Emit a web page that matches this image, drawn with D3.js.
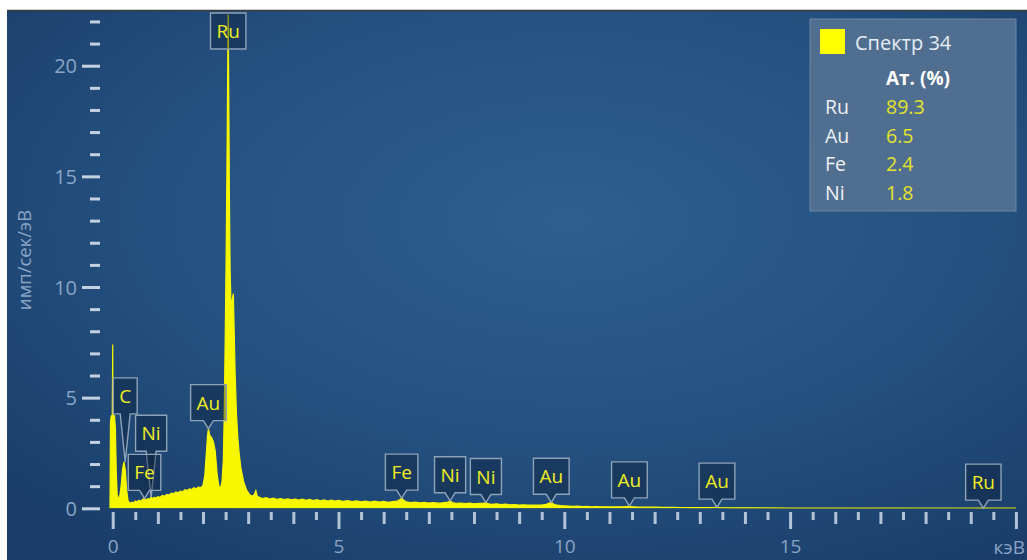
<!DOCTYPE html>
<html>
<head>
<meta charset="utf-8">
<script src="https://cdn.jsdelivr.net/npm/d3@7"></script>
<style>
  html, body { margin: 0; padding: 0; background: #ffffff; }
  svg { display: block; font-family: "Open Sans", "Noto Sans", sans-serif; }
</style>
</head>
<body>
<svg id="chart" width="1027" height="560"></svg>
<script>
// ---- EDS spectrum: [energy keV, counts per second per eV] ----
const spectrum = [
  [-0.06,0],[-0.05,3.9],[-0.03,4.2],[-0.01,4.0],[0.00,7.4],[0.005,4.3],[0.02,4.1],[0.04,4.2],[0.06,3.6],
  [0.08,1.6],[0.10,0.6],[0.13,0.4],[0.16,0.6],[0.19,1.1],[0.22,1.8],[0.25,2.1],[0.28,1.7],[0.31,0.8],
  [0.34,0.35],[0.38,0.22],[0.42,0.28],[0.46,0.24],[0.50,0.33],[0.54,0.29],[0.58,0.36],[0.62,0.32],
  [0.66,0.40],[0.70,0.45],[0.74,0.38],[0.78,0.44],[0.82,0.41],[0.85,0.50],[0.88,0.44],[0.92,0.49],
  [0.96,0.46],[1.00,0.53],[1.05,0.50],[1.10,0.58],[1.15,0.55],[1.20,0.63],[1.25,0.60],[1.30,0.68],
  [1.35,0.66],[1.40,0.74],[1.45,0.70],[1.50,0.78],[1.55,0.75],[1.60,0.84],[1.65,0.80],[1.70,0.88],
  [1.75,0.85],[1.80,0.93],[1.85,0.88],[1.90,0.96],[1.95,0.92],[2.00,1.05],[2.04,1.5],[2.07,2.4],
  [2.10,3.3],[2.12,3.6],[2.15,3.3],[2.19,3.2],[2.23,3.0],[2.27,2.6],[2.31,1.6],[2.35,1.0],[2.39,0.95],
  [2.42,1.2],[2.45,2.2],[2.47,4.3],[2.49,7.5],[2.51,11.0],[2.53,15.5],[2.545,19.5],[2.558,22.3],
  [2.57,19.0],[2.585,14.0],[2.60,10.8],[2.62,9.2],[2.645,9.4],[2.672,9.7],[2.69,8.0],[2.71,6.2],
  [2.74,4.3],[2.77,3.2],[2.80,2.5],[2.84,1.8],[2.90,1.2],[2.96,0.85],[3.02,0.65],[3.08,0.55],
  [3.13,0.60],[3.17,0.80],[3.20,0.55],[3.26,0.48],[3.32,0.44],[3.40,0.48],[3.48,0.42],[3.56,0.46],
  [3.64,0.40],[3.72,0.44],[3.80,0.39],[3.88,0.43],[3.96,0.38],[4.04,0.42],[4.12,0.37],[4.20,0.41],
  [4.28,0.36],[4.36,0.40],[4.44,0.35],[4.52,0.39],[4.60,0.34],[4.68,0.38],[4.76,0.33],[4.84,0.37],
  [4.92,0.33],[5.00,0.36],[5.10,0.31],[5.20,0.35],[5.30,0.30],[5.40,0.34],[5.50,0.29],[5.60,0.33],
  [5.70,0.28],[5.80,0.32],[5.90,0.28],[6.00,0.31],[6.10,0.27],[6.20,0.30],[6.30,0.32],[6.36,0.40],
  [6.40,0.46],[6.44,0.38],[6.50,0.29],[6.60,0.26],[6.70,0.28],[6.80,0.25],[6.90,0.27],[7.00,0.24],
  [7.10,0.26],[7.20,0.23],[7.30,0.25],[7.42,0.28],[7.47,0.34],[7.52,0.26],[7.60,0.22],[7.70,0.24],
  [7.80,0.21],[7.90,0.23],[8.00,0.20],[8.10,0.22],[8.20,0.22],[8.26,0.26],[8.32,0.20],[8.40,0.18],
  [8.50,0.20],[8.60,0.17],[8.70,0.19],[8.80,0.16],[8.90,0.17],[9.00,0.15],[9.10,0.16],[9.20,0.14],
  [9.30,0.15],[9.40,0.14],[9.50,0.15],[9.60,0.18],[9.67,0.24],[9.71,0.27],[9.76,0.19],[9.84,0.14],
  [9.92,0.12],[10.00,0.11],[10.10,0.10],[10.20,0.09],[10.30,0.10],[10.40,0.08],[10.50,0.09],
  [10.60,0.07],[10.70,0.08],[10.80,0.07],[10.90,0.07],[11.00,0.06],[11.10,0.07],[11.20,0.06],
  [11.30,0.07],[11.40,0.09],[11.44,0.11],[11.50,0.07],[11.60,0.06],[11.80,0.05],[12.00,0.05],
  [12.20,0.045],[12.40,0.04],[12.60,0.035],[12.80,0.035],[13.00,0.03],[13.20,0.03],[13.33,0.045],
  [13.38,0.055],[13.44,0.03],[13.60,0.025],[13.80,0.02],[14.00,0.02],[14.50,0.015],[15.00,0.012],
  [16.00,0.01],[17.00,0.008],[18.00,0.006],[19.00,0.006],[19.28,0.01],[19.50,0.005],[20.00,0.004]
];

// ---- axes ----
const yTickValues = [0,1,2,3,4,5,6,7,8,9,10,11,12,13,14,15,16,17,18,19,20,21,22];
const yTickLabels = [0, 5, 10, 15, 20];
const xTickValues = [0,0.5,1,1.5,2,2.5,3,3.5,4,4.5,5,5.5,6,6.5,7,7.5,8,8.5,9,9.5,10,
                     10.5,11,11.5,12,12.5,13,13.5,14,14.5,15,15.5,16,16.5,17,17.5,18,18.5,19,19.5,20];
const xTickLabels = [0, 5, 10, 15];
const xUnit = "кэВ";
const yUnit = "имп/сек/эВ";

// ---- identified lines ----
const peakElements = ["C", "Ni", "Fe", "Au", "Ru", "Fe", "Ni", "Ni", "Au", "Au", "Au", "Ru"];
const peakEnergies = [0.277, 0.851, 0.705, 2.120, 2.558, 6.398, 7.471, 8.264, 9.712, 11.442, 13.381, 19.279];

// ---- quantification table ----
const legendTitle = "Спектр 34";
const quantHeader = "Ат. (%)";
const quantElements = ["Ru", "Au", "Fe", "Ni"];
const quantAtomic = ["89.3", "6.5", "2.4", "1.8"];

// ---------------------------------------------------------------
const svg = d3.select("#chart");
const W = 1027, H = 560;

const x = d3.scaleLinear().domain([0, 20]).range([112.7, 1015.9]);
const y = d3.scaleLinear().domain([0, 20]).range([508.3, 65.7]);

const defs = svg.append("defs");
const grad = defs.append("radialGradient")
  .attr("id", "bg").attr("cx", "55%").attr("cy", "38%").attr("r", "75%");
grad.append("stop").attr("offset", "0%").attr("stop-color", "#2d5f8f");
grad.append("stop").attr("offset", "55%").attr("stop-color", "#24507f");
grad.append("stop").attr("offset", "100%").attr("stop-color", "#1a3d69");

defs.append("clipPath").attr("id", "plotClip")
  .append("rect").attr("x", 7).attr("y", 11).attr("width", W - 7).attr("height", 508.5 - 11);

// panel background
svg.append("rect").attr("x", 7).attr("y", 10).attr("width", W - 7).attr("height", H - 10)
  .attr("fill", "url(#bg)");
svg.append("line").attr("x1", 7).attr("x2", W).attr("y1", 10.5).attr("y2", 10.5)
  .attr("stroke", "#3b3b3b").attr("stroke-width", 1.5);

// spectrum
const area = d3.area().x(d => x(d[0])).y0(y(0)).y1(d => y(d[1]));
const line = d3.line().x(d => x(d[0])).y(d => y(d[1]));
const plot = svg.append("g").attr("clip-path", "url(#plotClip)");
plot.append("path").datum(spectrum).attr("d", area).attr("fill", "#f7f700");
plot.append("path").datum(spectrum).attr("d", line)
  .attr("fill", "none").attr("stroke", "#f7f700").attr("stroke-width", 1.2);

// y axis
const yAxis = svg.append("g").attr("transform", "translate(100,0)")
  .call(d3.axisLeft(y).tickValues(yTickValues).tickSize(10)
    .tickFormat(d => yTickLabels.includes(d) ? d : ""));
yAxis.select(".domain").remove();
yAxis.selectAll(".tick line")
  .attr("x2", d => yTickLabels.includes(d) ? -18 : -10)
  .attr("stroke", "#c4d1e1").attr("stroke-width", 3);
yAxis.selectAll(".tick text")
  .attr("x", -23).attr("dy", "0.35em")
  .attr("fill", "#8aa5c5").attr("font-size", 20).attr("font-family", "'Open Sans', sans-serif");

// x axis
const xAxis = svg.append("g").attr("transform", "translate(0,512)")
  .call(d3.axisBottom(x).tickValues(xTickValues).tickSize(10)
    .tickFormat(d => xTickLabels.includes(d) ? d : ""));
xAxis.select(".domain").remove();
xAxis.selectAll(".tick line")
  .attr("y2", d => d % 5 === 0 ? 17 : (d % 1 === 0 ? 12 : 8))
  .attr("stroke", "#b3c3d7").attr("stroke-width", 3);
xAxis.selectAll(".tick text")
  .attr("y", 41).attr("dy", 0)
  .attr("fill", "#8aa5c5").attr("font-size", 19).attr("font-family", "'Open Sans', sans-serif");

svg.append("text").attr("x", 1025).attr("y", 554).attr("text-anchor", "end")
  .attr("fill", "#8aa5c5").attr("font-size", 19).text(xUnit);

svg.append("text")
  .attr("transform", "translate(31,260) rotate(-90)")
  .attr("text-anchor", "middle")
  .attr("fill", "#8aa5c5").attr("font-size", 18.5).text(yUnit);

// peak labels
const labelLift = [40, 38, 0, 0, 0, 0, 0, 0, 0, 0, 0, 0];
const labels = svg.append("g");
peakElements.forEach((el, i) => {
  const e = peakEnergies[i];
  const near = spectrum.filter(d => Math.abs(d[0] - e) <= 0.04);
  const peakVal = d3.max(near, d => d[1]);
  const ax = x(e), ay = y(peakVal);
  const g = labels.append("g");
  const path = g.append("path");
  const t = g.append("text").attr("text-anchor", "middle")
    .attr("font-size", 19).attr("fill", "#eeee22").text(el);
  const tw = t.node().getComputedTextLength();
  const bw = tw + 12, bh = 36, ph = 8;
  let bottom = ay - ph - labelLift[i];
  let top = bottom - bh;
  let pointer = true;
  if (top < 13) { top = 13; bottom = top + bh; pointer = false; }
  const l = ax - bw / 2, r = ax + bw / 2;
  const d = pointer
    ? `M${l},${top}H${r}V${bottom}H${ax + 5}L${ax},${ay}L${ax - 5},${bottom}H${l}Z`
    : `M${l},${top}H${r}V${bottom}H${l}Z`;
  path.attr("d", d).attr("fill", "rgba(10,25,50,0.38)")
    .attr("stroke", "#8ea2b8").attr("stroke-width", 1.4);
  t.attr("x", ax).attr("y", top + bh / 2 + 7);
});

// quantification legend
const lg = svg.append("g");
lg.append("rect").attr("x", 810).attr("y", 19).attr("width", 206).attr("height", 192)
  .attr("fill", "#506e8f").attr("stroke", "#6a86a3").attr("stroke-width", 1);
lg.append("rect").attr("x", 820).attr("y", 29).attr("width", 25).attr("height", 25).attr("fill", "#ffff00");
lg.append("text").attr("x", 855).attr("y", 50).attr("font-size", 20).attr("fill", "#e6edf4").text(legendTitle);
lg.append("text").attr("x", 886).attr("y", 85).attr("font-size", 19).attr("font-weight", "bold")
  .attr("fill", "#ffffff").text(quantHeader);
quantElements.forEach((el, i) => {
  const by = 114 + i * 28.7;
  lg.append("text").attr("x", 825).attr("y", by).attr("font-size", 19.5).attr("fill", "#eef2f6").text(el);
  lg.append("text").attr("x", 886).attr("y", by).attr("font-size", 19.5).attr("fill", "#e4e42c").text(quantAtomic[i]);
});
</script>
</body>
</html>
